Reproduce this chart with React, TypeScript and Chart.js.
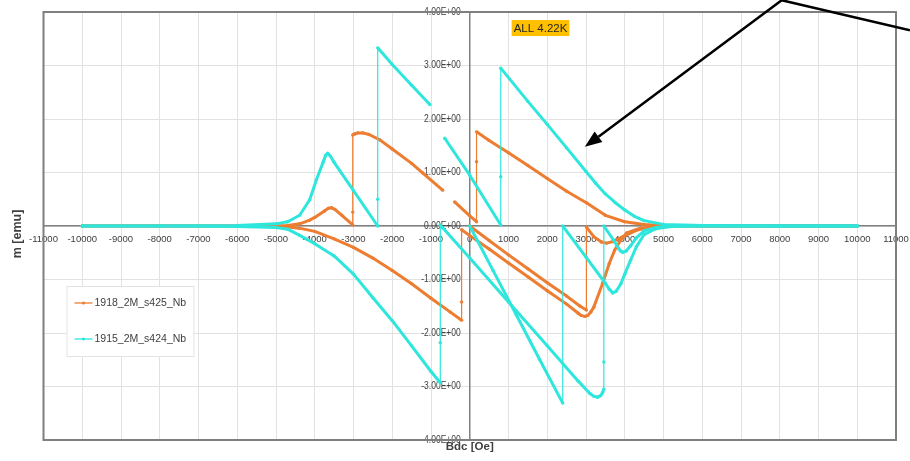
import React, { useEffect, useRef } from 'react';
import { Chart, registerables } from 'chart.js';

Chart.register(...registerables);

// ---------- data ----------
const SERIES_NAMES = ['1918_2M_s425_Nb', '1915_2M_s424_Nb'];
const SERIES_COLORS = ['#ED7D31', '#2EE6DC'];
const X_TITLE = 'Bdc [Oe]';
const Y_TITLE = 'm [emu]';

const X_TICKS = [-11000, -10000, -9000, -8000, -7000, -6000, -5000, -4000, -3000, -2000, -1000, 0, 1000, 2000, 3000, 4000, 5000, 6000, 7000, 8000, 9000, 10000, 11000];
const X_TICK_LABELS = ['-11000', '-10000', '-9000', '-8000', '-7000', '-6000', '-5000', '-4000', '-3000', '-2000', '-1000', '0', '1000', '2000', '3000', '4000', '5000', '6000', '7000', '8000', '9000', '10000', '11000'];
const Y_TICKS = [-4, -3, -2, -1, 0, 1, 2, 3, 4];
const Y_TICK_LABELS = ['-4.00E+00', '-3.00E+00', '-2.00E+00', '-1.00E+00', '0.00E+00', '1.00E+00', '2.00E+00', '3.00E+00', '4.00E+00'];

// series 1918_2M_s425_Nb (orange), measurement order: virgin, descending, ascending
const orangeB = [
  0, 500, 1000, 1500, 2000, 2500, 2850, 3010,
  3010, 3200, 3400, 3530, 3700, 3950, 4300, 4650, 5000, 6000, 8000, 10000,
  10000, 8000, 6000, 5000, 4500, 4000, 3500, 3020, 2500, 2000, 1500, 1000, 500, 175,
  175, 175, 0, -390, null, -700, -1210, -1500, -2000, -2320, -2600, -2760, -2890, -2970, -3020,
  -3020, -3020, -3300, -3480, -3565, -3650, -3750, -4000, -4130, -4390, -4700, -5000, -6000, -8000, -10000,
  -10000, -8000, -6000, -5000, -4800, -4400, -4000, -3500, -3000, -2500, -2000, -1500, -1000, -500, -210,
  -210, -210, 0, 500, 1000, 1500, 2000, 2500, 2800, 2870, 2970, 3050, 3120, 3200, 3430, 3600, 3740, 3900, 4050, 4400, 4800, 5200, 6000, 8000, 10000,
];
const orangeM = [
  0, -0.27, -0.54, -0.8, -1.06, -1.31, -1.5, -1.57,
  -0.02, -0.2, -0.3, -0.32, -0.29, -0.2, -0.08, -0.02, 0, 0, 0, 0,
  0, 0, 0.005, 0.01, 0.03, 0.08, 0.2, 0.43, 0.65, 0.89, 1.13, 1.37, 1.6, 1.76,
  1.2, 0.08, 0.19, 0.45, null, 0.67, 0.99, 1.17, 1.44, 1.61, 1.71, 1.74, 1.74, 1.72, 1.7,
  0.26, 0.02, 0.2, 0.31, 0.34, 0.33, 0.28, 0.16, 0.11, 0.04, 0.01, 0, 0, 0, 0,
  0, 0, 0, 0, -0.01, -0.04, -0.1, -0.24, -0.4, -0.6, -0.83, -1.08, -1.35, -1.61, -1.76,
  -1.42, -0.07, -0.18, -0.43, -0.69, -0.95, -1.21, -1.46, -1.63, -1.67, -1.69, -1.67, -1.61, -1.52, -1.07, -0.7, -0.45, -0.26, -0.13, -0.04, -0.01, 0, 0, 0, 0,
];

// series 1915_2M_s424_Nb (cyan)
const cyanB = [
  0, 600, 1200, 1800, 2400,
  2400, 3000, 3500, 3600, 3690, 3780, 3900, 4000, 4150, 4300, 4500, 4800, 5200, 6000, 8000, 10000,
  10000, 8000, 6000, 5000, 4500, 4250, 4000, 3750, 3500, 3250, 3000, 2500, 2000, 1500, 800,
  800, 800, 0, -645, null, -1030, -1500, -2000, -2375,
  -2375, -2375, -3000, -3500, -3600, -3665, -3720, -3790, -3960, -4130, -4390, -4700, -5000, -6000, -8000, -10000,
  -10000, -8000, -6000, -5000, -4700, -4400, -4000, -3500, -3000, -2500, -2000, -1500, -1000, -760,
  -760, -760, 0, 1000, 2000, 2800, 3100, 3200, 3300, 3380, 3430, 3460,
  3460, 3460, 3700, 3850, 3900, 3950, 4030, 4150, 4300, 4500, 4800, 5200, 6000, 8000, 10000,
];
const cyanM = [
  0, -0.83, -1.66, -2.49, -3.31,
  0, -0.58, -1.07, -1.18, -1.25, -1.22, -1.08, -0.9, -0.64, -0.39, -0.16, -0.05, -0.01, 0, 0, 0,
  0, 0, 0.01, 0.03, 0.1, 0.18, 0.3, 0.44, 0.6, 0.8, 1.02, 1.46, 1.9, 2.33, 2.95,
  0.92, 0.02, 0.95, 1.64, null, 2.27, 2.63, 3.02, 3.33,
  0.5, 0, 0.66, 1.19, 1.31, 1.36, 1.32, 1.18, 0.86, 0.49, 0.2, 0.08, 0.04, 0.01, 0, 0,
  0, 0, -0.01, -0.03, -0.06, -0.17, -0.33, -0.56, -0.9, -1.34, -1.77, -2.24, -2.72, -2.93,
  -2.18, 0.02, -0.6, -1.42, -2.24, -2.9, -3.13, -3.18, -3.2, -3.17, -3.11, -3.05,
  -2.54, 0, -0.25, -0.43, -0.47, -0.49, -0.47, -0.37, -0.22, -0.09, -0.03, 0, 0, 0, 0,
];

// annotation (data coordinates)
const ANNOT_TEXT = 'ALL 4.22K';
const annotB = 1826;
const annotM = 3.7;
const arrowB = [11360, 8050, 2970];
const arrowM = [3.66, 4.22, 1.48];

const TEXT_FONT = "'Liberation Sans', Arial, sans-serif";

function toPoints(bs: (number | null)[], ms: (number | null)[]) {
  return bs.map((b, i) => ({ x: b, y: ms[i] }));
}

const decorPlugin = {
  id: 'decor',
  beforeDatasetsDraw(chart: any) {
    const { ctx, scales } = chart;
    const xs = scales.x;
    const ys = scales.y;
    const x0 = xs.getPixelForValue(0);
    const y0 = ys.getPixelForValue(0);
    ctx.save();
    ctx.fillStyle = '#404040';
    // x tick labels
    ctx.font = `9.5px ${TEXT_FONT}`;
    ctx.textAlign = 'center';
    ctx.textBaseline = 'middle';
    X_TICKS.forEach((t, i) => {
      ctx.fillText(X_TICK_LABELS[i], xs.getPixelForValue(t), y0 + 13);
    });
    // y tick labels (slightly condensed)
    ctx.font = `10px ${TEXT_FONT}`;
    ctx.textAlign = 'right';
    const sx = 0.85;
    Y_TICKS.forEach((t, i) => {
      ctx.save();
      ctx.translate(x0 - 9, ys.getPixelForValue(t));
      ctx.scale(sx, 1);
      ctx.fillText(Y_TICK_LABELS[i], 0, 0);
      ctx.restore();
    });
    ctx.restore();
  },
  afterDraw(chart: any) {
    const { ctx, chartArea: a, scales } = chart;
    const xs = scales.x;
    const ys = scales.y;
    ctx.save();

    // plot border
    ctx.strokeStyle = '#7f7f7f';
    ctx.lineWidth = 2;
    ctx.strokeRect(a.left, a.top, a.right - a.left, a.bottom - a.top);

    // axis titles
    ctx.fillStyle = '#404040';
    ctx.textAlign = 'center';
    ctx.textBaseline = 'middle';
    ctx.font = `bold 11.5px ${TEXT_FONT}`;
    ctx.fillText(X_TITLE, xs.getPixelForValue(0), a.bottom + 7);
    ctx.save();
    ctx.font = `bold 12.5px ${TEXT_FONT}`;
    ctx.translate(a.left - 26, (a.top + a.bottom) / 2 + 8);
    ctx.rotate(-Math.PI / 2);
    ctx.fillText(Y_TITLE, 0, 0);
    ctx.restore();

    // legend
    const lx = a.left + 23;
    const ly = a.top + 274;
    const lw = 127;
    const lh = 70;
    ctx.fillStyle = '#ffffff';
    ctx.fillRect(lx, ly, lw, lh);
    ctx.strokeStyle = '#e3e3e3';
    ctx.lineWidth = 1;
    ctx.strokeRect(lx + 0.5, ly + 0.5, lw, lh);
    ctx.font = `10.5px ${TEXT_FONT}`;
    ctx.textAlign = 'left';
    SERIES_NAMES.forEach((name, i) => {
      const yy = ly + 17 + i * 36;
      ctx.strokeStyle = SERIES_COLORS[i];
      ctx.lineWidth = 1.3;
      ctx.beginPath();
      ctx.moveTo(lx + 8, yy);
      ctx.lineTo(lx + 26, yy);
      ctx.stroke();
      ctx.fillStyle = SERIES_COLORS[i];
      ctx.beginPath();
      ctx.arc(lx + 17, yy, 1.6, 0, Math.PI * 2);
      ctx.fill();
      ctx.fillStyle = '#404040';
      ctx.fillText(name, lx + 28, yy);
    });

    // annotation box
    ctx.font = `11.5px ${TEXT_FONT}`;
    const tw = ctx.measureText(ANNOT_TEXT).width;
    const cx = xs.getPixelForValue(annotB);
    const cy = ys.getPixelForValue(annotM);
    const bw = tw + 4;
    const bh = 16;
    ctx.fillStyle = '#FFC000';
    ctx.fillRect(cx - bw / 2, cy - bh / 2, bw, bh);
    ctx.fillStyle = '#262626';
    ctx.textAlign = 'center';
    ctx.fillText(ANNOT_TEXT, cx, cy + 0.5);

    // arrow
    const px = arrowB.map((b) => xs.getPixelForValue(b));
    const py = arrowM.map((m) => ys.getPixelForValue(m));
    const n = px.length;
    const ang = Math.atan2(py[n - 1] - py[n - 2], px[n - 1] - px[n - 2]);
    const headL = 17;
    const headW = 6.5;
    const baseX = px[n - 1] - headL * Math.cos(ang);
    const baseY = py[n - 1] - headL * Math.sin(ang);
    ctx.strokeStyle = '#000000';
    ctx.lineWidth = 2.5;
    ctx.lineJoin = 'miter';
    ctx.beginPath();
    ctx.moveTo(px[0], py[0]);
    for (let i = 1; i < n - 1; i++) ctx.lineTo(px[i], py[i]);
    ctx.lineTo(baseX, baseY);
    ctx.stroke();
    ctx.fillStyle = '#000000';
    ctx.beginPath();
    ctx.moveTo(px[n - 1], py[n - 1]);
    ctx.lineTo(baseX + headW * Math.sin(ang), baseY - headW * Math.cos(ang));
    ctx.lineTo(baseX - headW * Math.sin(ang), baseY + headW * Math.cos(ang));
    ctx.closePath();
    ctx.fill();

    ctx.restore();
  },
};

export default function App() {
  const canvasRef = useRef<HTMLCanvasElement | null>(null);

  useEffect(() => {
    const canvas = canvasRef.current;
    if (!canvas) return;
    const segWidth = (ctx: any) =>
      Math.abs(ctx.p0.parsed.x - ctx.p1.parsed.x) < 1 ? 1.2 : 3;

    const makeSet = (i: number, bs: (number | null)[], ms: (number | null)[], order: number) => ({
      label: SERIES_NAMES[i],
      data: toPoints(bs, ms) as any,
      showLine: true,
      borderColor: SERIES_COLORS[i],
      backgroundColor: SERIES_COLORS[i],
      borderWidth: 3,
      borderJoinStyle: 'round',
      pointRadius: 1.7,
      pointBorderWidth: 0,
      pointHoverRadius: 1.7,
      spanGaps: false,
      order,
      segment: { borderWidth: segWidth },
    });

    const chart = new Chart(canvas, {
      type: 'scatter',
      data: {
        datasets: [
          makeSet(0, orangeB, orangeM, 1) as any,
          makeSet(1, cyanB, cyanM, 0) as any,
        ],
      },
      options: {
        responsive: false,
        animation: false,
        events: [],
        layout: { padding: { left: 43.5, right: 14, top: 12, bottom: 21 } },
        plugins: {
          legend: { display: false },
          tooltip: { enabled: false },
        },
        scales: {
          x: {
            type: 'linear',
            position: { y: 0 } as any,
            min: -11000,
            max: 11000,
            ticks: { stepSize: 1000, autoSkip: false, display: false },
            grid: { color: '#e2e2e2', lineWidth: 1, drawTicks: false },
            border: { display: true, color: '#808080', width: 1.5 },
          },
          y: {
            type: 'linear',
            position: { x: 0 } as any,
            min: -4,
            max: 4,
            ticks: { stepSize: 1, autoSkip: false, display: false },
            grid: { color: '#e2e2e2', lineWidth: 1, drawTicks: false },
            border: { display: true, color: '#808080', width: 1.5 },
          },
        },
      } as any,
      plugins: [decorPlugin],
    });
    return () => chart.destroy();
  }, []);

  return (
    <div style={{ position: 'absolute', left: 0, top: 0, width: 910, height: 461, background: '#ffffff' }}>
      <canvas ref={canvasRef} width={910} height={461} style={{ display: 'block', width: 910, height: 461 }} />
    </div>
  );
}
